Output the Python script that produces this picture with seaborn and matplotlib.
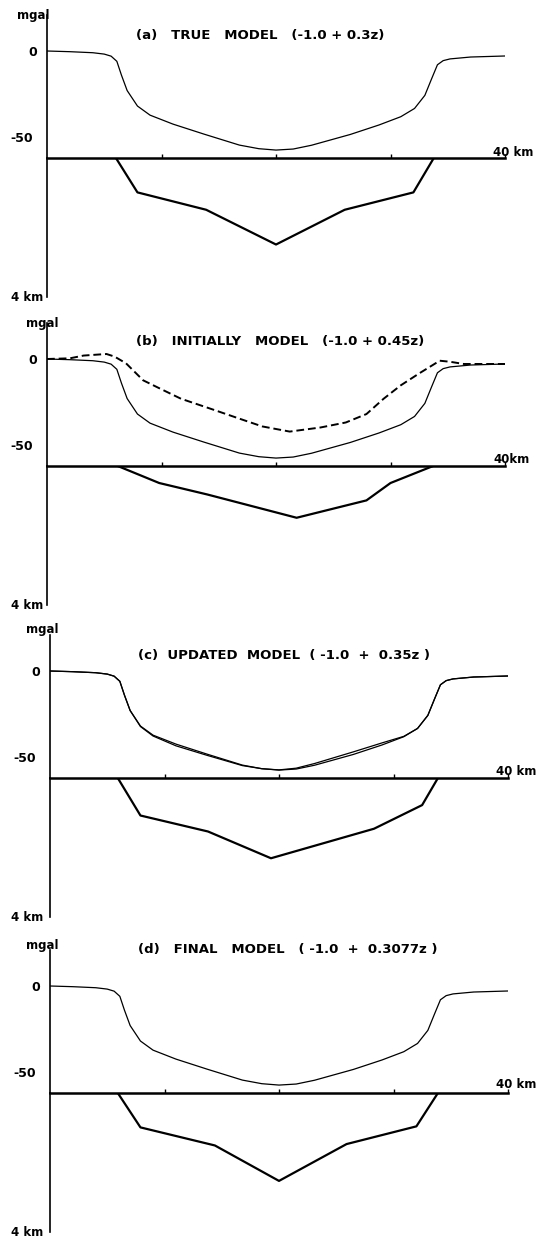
import numpy as np
import pandas as pd
import matplotlib
matplotlib.use("Agg")
import matplotlib.pyplot as plt
import matplotlib.transforms as mtransforms
import seaborn as sns

sns.set_style("white")
plt.rcParams['font.family'] = ['DejaVu Sans']
plt.rcParams['text.color'] = 'black'

# ---------------- data ----------------
# observed gravity anomaly (mgal) vs distance (km)
x_obs = [0, 2.0, 4.0, 5.0, 5.6, 6.1, 6.5, 7.0, 7.9, 9.0, 11.0, 13.7, 16.8, 18.5, 20.0,
         21.5, 23.1, 26.5, 29.0, 30.9, 32.1, 33.0, 33.6, 34.1, 34.6, 35.2, 37.0, 40.0]
g_obs = [0, -0.4, -1.0, -1.8, -3.0, -6.0, -14.0, -23.0, -32.0, -37.3, -42.5, -48.3, -54.7, -56.8, -57.6,
         -57.0, -54.8, -48.5, -43.0, -38.2, -33.4, -25.8, -16.0, -8.0, -5.6, -4.6, -3.5, -2.9]

# initial-model computed anomaly (dashed)
x_init = [0, 2.0, 3.2, 4.5, 5.2, 5.9, 6.9, 8.4, 9.9, 11.7, 14.5, 16.9, 18.8, 21.2,
          23.9, 26.1, 27.9, 29.4, 30.9, 32.5, 34.3, 35.2, 36.4, 40.0]
g_init = [0, 0.4, 2.0, 2.6, 2.9, 1.4, -2.5, -12.4, -17.3, -23.1, -29.4, -34.9, -39.2, -42.2,
          -39.8, -36.9, -32.0, -23.1, -15.3, -8.4, -1.0, -1.6, -2.9, -2.9]

# updated-model computed anomaly
g_upd = [0, -0.4, -1.0, -1.8, -3.0, -6.0, -14.0, -23.0, -32.3, -37.8, -43.5, -49.0, -55.0, -56.8, -57.5,
         -56.5, -53.8, -47.0, -41.8, -38.0, -33.4, -25.8, -16.0, -8.0, -5.6, -4.6, -3.5, -2.9]

# basin depth models (km)
x_true_d = [6.0, 7.9, 13.9, 20.0, 26.0, 32.0, 33.8]
z_true = [0, 1.0, 1.5, 2.5, 1.5, 1.0, 0]
x_init_d = [6.1, 9.8, 14.0, 21.8, 27.9, 30.0, 33.8]
z_init = [0, 0.5, 0.83, 1.5, 1.0, 0.5, 0]
x_upd_d = [5.9, 7.9, 13.8, 19.3, 28.3, 32.5, 33.9]
z_upd = [0, 1.09, 1.55, 2.32, 1.47, 0.79, 0]
x_fin_d = [5.9, 7.9, 14.4, 20.0, 25.9, 32.0, 33.9]
z_fin = [0, 1.0, 1.52, 2.54, 1.48, 0.97, 0]

titles = ["(a)   TRUE   MODEL   (-1.0 + 0.3z)",
          "(b)   INITIALLY   MODEL   (-1.0 + 0.45z)",
          "(c)  UPDATED  MODEL  ( -1.0  +  0.35z )",
          "(d)   FINAL   MODEL   ( -1.0  +  0.3077z )"]
km_labels = ["40 km", "40km", "40 km", "40 km"]

# ---------------- layout ----------------
W, H = 541, 1244
fig = plt.figure(figsize=(W / 100, H / 100), dpi=100)
fig.patch.set_facecolor("white")

def rect(l, t, r, b):
    return [l / W, 1 - b / H, (r - l) / W, (b - t) / H]

def ftext(x, y, s, **kw):
    fig.text(x / W, 1 - y / H, s, color="black", **kw)

zero_px = [51, 359, 671, 986]
left_px = [47, 47, 50, 50]
title_x = [136, 136, 138, 138]
title_y = [35, 342, 655, 950]
mgal_pos = [(49, 15, "right"), (26, 323, "left"), (26, 629, "left"), (26, 945, "left")]
km_dy = [5, 6, 6, 8]
PXM = 1.72
GTOP, GBOT = 21, -62

panels = [
    dict(lines=[(x_obs, g_obs, '-')], dx=x_true_d, dz=z_true),
    dict(lines=[(x_obs, g_obs, '-'), (x_init, g_init, '--')], dx=x_init_d, dz=z_init),
    dict(lines=[(x_obs, g_obs, '-'), (x_obs, g_upd, '-')], dx=x_upd_d, dz=z_upd),
    dict(lines=[(x_obs, g_obs, '-')], dx=x_fin_d, dz=z_fin),
]

for i, p in enumerate(panels):
    z0 = zero_px[i]
    L = left_px[i]
    R = L + 458
    top = z0 - GTOP * PXM
    base = z0 - GBOT * PXM
    bot = base + 139

    # gravity axes
    ag = fig.add_axes(rect(L, top, R, base))
    ag.set_facecolor("none")
    for (xs, ys, ls) in p['lines']:
        df = pd.DataFrame({"x": xs, "g": ys})
        if ls == '--':
            sns.lineplot(data=df, x="x", y="g", ax=ag, color="black", lw=1.4,
                         sort=False, estimator=None, linestyle=(0, (4, 2)))
        else:
            sns.lineplot(data=df, x="x", y="g", ax=ag, color="black", lw=0.9,
                         sort=False, estimator=None)
    ag.set_xlim(0, 40)
    ag.set_ylim(GBOT, GTOP)
    for s in ["top", "right", "bottom"]:
        ag.spines[s].set_visible(False)
    ag.spines["left"].set_linewidth(1.2)
    ag.spines["left"].set_color("black")
    ag.set_xticks([])
    ag.set_yticks([20, 10, 0, -10, -20, -30, -40, -50])
    ag.set_yticklabels(["", "", "0", "", "", "", "", "-50"],
                       fontsize=9, fontweight="bold")
    ag.tick_params(axis="y", direction="in", length=3, width=1, pad=10,
                   colors="black", labelcolor="black")
    zero_lab = ag.get_yticklabels()[2]
    zero_lab.set_transform(zero_lab.get_transform() +
                           mtransforms.ScaledTranslation(4 / 100, 0, fig.dpi_scale_trans))
    ag.set_xlabel("")
    ag.set_ylabel("")

    # depth axes
    ad = fig.add_axes(rect(L, base, R, bot))
    ad.set_facecolor("none")
    dfd = pd.DataFrame({"x": p['dx'], "z": p['dz']})
    sns.lineplot(data=dfd, x="x", y="z", ax=ad, color="black", lw=1.6,
                 sort=False, estimator=None)
    ad.set_xlim(0, 40)
    ad.set_ylim(4, 0)
    for s in ["right", "bottom"]:
        ad.spines[s].set_visible(False)
    ad.spines["top"].set_linewidth(1.8)
    ad.spines["left"].set_linewidth(1.2)
    ad.spines["top"].set_color("black")
    ad.spines["left"].set_color("black")
    ad.xaxis.set_ticks_position("top")
    ad.set_xticks([10, 20, 30, 40])
    ad.set_xticklabels([])
    ad.tick_params(axis="x", direction="out", length=3, width=1, colors="black")
    ad.set_yticks([1, 2, 3])
    ad.set_yticklabels([])
    ad.tick_params(axis="y", direction="in", length=3, width=1, colors="black")
    ad.set_xlabel("")
    ad.set_ylabel("")

    # labels
    mx, my, mha = mgal_pos[i]
    ftext(mx, my, "mgal", ha=mha, va="center", fontsize=8.5, fontweight="bold")
    ftext(43, bot + 1, "4 km", ha="right", va="center", fontsize=8.5, fontweight="bold")
    ftext(R - 12, base - km_dy[i], km_labels[i], ha="left", va="center", fontsize=8.5, fontweight="bold")
    ftext(title_x[i], title_y[i], titles[i], ha="left", va="center", fontsize=9.5, fontweight="bold")

fig.savefig("out.png", dpi=100, facecolor="white")
